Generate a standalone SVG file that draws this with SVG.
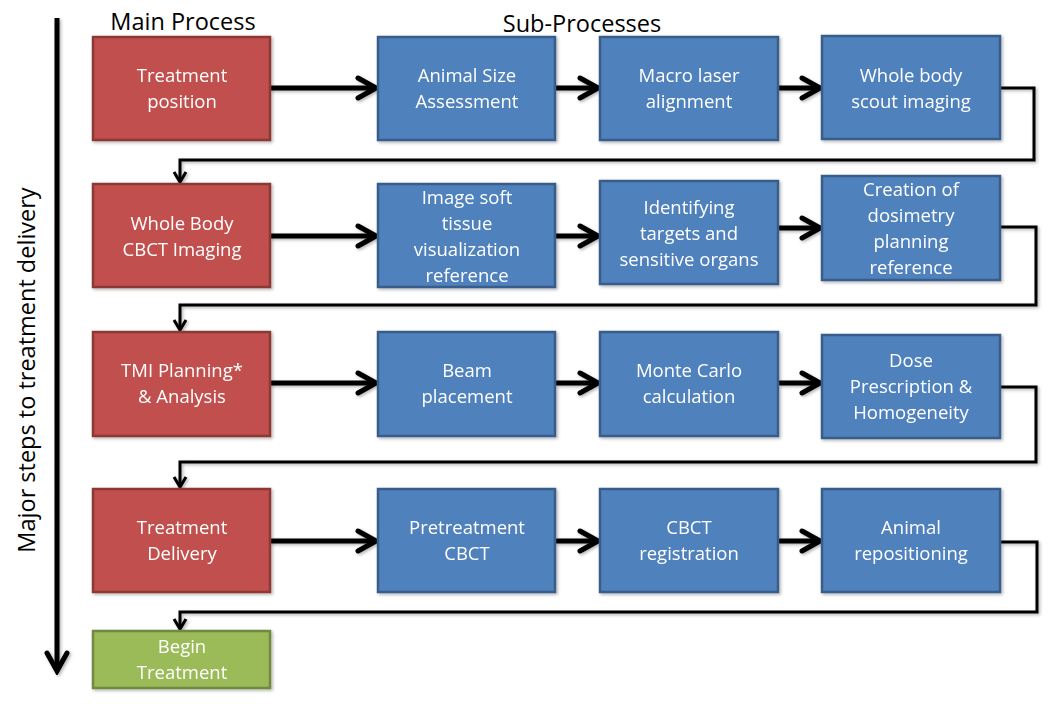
<svg xmlns="http://www.w3.org/2000/svg" width="1050" height="704" viewBox="0 0 1050 704">
<style>
.red{fill:#C0504D;stroke:#8C3836;stroke-width:2.5}
.blue{fill:#4F81BD;stroke:#385D8A;stroke-width:2.5}
.green{fill:#9BBB59;stroke:#71893F;stroke-width:2.5}
.t{font-family:"Open Sans","Liberation Sans",sans-serif;font-size:18.5px;fill:#fff;text-anchor:middle}
.h{font-family:"Open Sans","Liberation Sans",sans-serif;font-size:23.5px;fill:#000;text-anchor:middle}
.thick{fill:none;stroke:#000;stroke-width:5}
.thin{fill:none;stroke:#000;stroke-width:3}
</style>
<defs>
<marker id="ah" markerUnits="userSpaceOnUse" viewBox="0 0 26 26" refX="22" refY="13" markerWidth="26" markerHeight="26" orient="auto">
<path d="M4,3 L22,13 L4,23" fill="none" stroke="#000" stroke-width="5" stroke-linecap="round" stroke-linejoin="miter"/>
</marker>
<marker id="as" markerUnits="userSpaceOnUse" viewBox="0 0 16 16" refX="13" refY="8" markerWidth="16" markerHeight="16" orient="auto">
<path d="M3,2 L13,8 L3,14" fill="none" stroke="#000" stroke-width="3"/>
</marker>
<filter id="sh" x="-10%" y="-10%" width="130%" height="130%">
<feDropShadow dx="1.5" dy="1.5" stdDeviation="1.5" flood-color="#000" flood-opacity="0.3"/>
</filter>
</defs>
<text class="h" x="183" y="30">Main Process</text>
<text class="h" x="582" y="32">Sub-Processes</text>
<text class="h" transform="translate(35,370) rotate(-90)">Major steps to treatment delivery</text>
<g id="connectors" filter="url(#sh)">
<line class="thick" x1="57" y1="18" x2="57" y2="671" marker-end="url(#ah)"/>
<line class="thick" x1="270" y1="88" x2="376" y2="88" marker-end="url(#ah)"/>
<line class="thick" x1="556" y1="88" x2="598" y2="88" marker-end="url(#ah)"/>
<line class="thick" x1="779" y1="88" x2="820" y2="88" marker-end="url(#ah)"/>
<polyline class="thin" points="1001,88 1034,88 1034,160 180,160 180,182" marker-end="url(#as)"/>
<line class="thick" x1="270" y1="236" x2="376" y2="236" marker-end="url(#ah)"/>
<line class="thick" x1="556" y1="236" x2="598" y2="236" marker-end="url(#ah)"/>
<line class="thick" x1="779" y1="228" x2="820" y2="228" marker-end="url(#ah)"/>
<polyline class="thin" points="1001,227 1036,227 1036,305 180,305 180,330" marker-end="url(#as)"/>
<line class="thick" x1="270" y1="383" x2="376" y2="383" marker-end="url(#ah)"/>
<line class="thick" x1="556" y1="383" x2="598" y2="383" marker-end="url(#ah)"/>
<line class="thick" x1="779" y1="383" x2="820" y2="383" marker-end="url(#ah)"/>
<polyline class="thin" points="1001,387 1036,387 1036,462 180,462 180,487" marker-end="url(#as)"/>
<line class="thick" x1="270" y1="541" x2="376" y2="541" marker-end="url(#ah)"/>
<line class="thick" x1="556" y1="541" x2="598" y2="541" marker-end="url(#ah)"/>
<line class="thick" x1="779" y1="541" x2="820" y2="541" marker-end="url(#ah)"/>
<polyline class="thin" points="1001,542 1037,542 1037,612 180,612 180,629" marker-end="url(#as)"/>
</g>
<g id="n1" filter="url(#sh)"><rect class="red" x="93" y="37" width="177" height="103"/><text class="t" x="182" y="82">Treatment</text><text class="t" x="182" y="108">position</text></g>
<g id="n2" filter="url(#sh)"><rect class="blue" x="378" y="37" width="177" height="103"/><text class="t" x="467" y="82">Animal Size</text><text class="t" x="467" y="108">Assessment</text></g>
<g id="n3" filter="url(#sh)"><rect class="blue" x="600" y="37" width="178" height="103"/><text class="t" x="689" y="82">Macro laser</text><text class="t" x="689" y="108">alignment</text></g>
<g id="n4" filter="url(#sh)"><rect class="blue" x="822" y="36" width="178" height="103"/><text class="t" x="911" y="82">Whole body</text><text class="t" x="911" y="108">scout imaging</text></g>
<g id="n5" filter="url(#sh)"><rect class="red" x="93" y="184" width="177" height="103"/><text class="t" x="182" y="230">Whole Body</text><text class="t" x="182" y="256">CBCT Imaging</text></g>
<g id="n6" filter="url(#sh)"><rect class="blue" x="378" y="184" width="177" height="103"/><text class="t" x="467" y="204">Image soft</text><text class="t" x="467" y="230">tissue</text><text class="t" x="467" y="256">visualization</text><text class="t" x="467" y="282">reference</text></g>
<g id="n7" filter="url(#sh)"><rect class="blue" x="600" y="181" width="178" height="103"/><text class="t" x="689" y="214">Identifying</text><text class="t" x="689" y="240">targets and</text><text class="t" x="689" y="266">sensitive organs</text></g>
<g id="n8" filter="url(#sh)"><rect class="blue" x="822" y="176" width="178" height="104"/><text class="t" x="911" y="196">Creation of</text><text class="t" x="911" y="222">dosimetry</text><text class="t" x="911" y="248">planning</text><text class="t" x="911" y="274">reference</text></g>
<g id="n9" filter="url(#sh)"><rect class="red" x="93" y="332" width="177" height="104"/><text class="t" x="182" y="377">TMI Planning*</text><text class="t" x="182" y="403">&amp; Analysis</text></g>
<g id="n10" filter="url(#sh)"><rect class="blue" x="378" y="332" width="177" height="104"/><text class="t" x="467" y="377">Beam</text><text class="t" x="467" y="403">placement</text></g>
<g id="n11" filter="url(#sh)"><rect class="blue" x="600" y="332" width="178" height="104"/><text class="t" x="689" y="377">Monte Carlo</text><text class="t" x="689" y="403">calculation</text></g>
<g id="n12" filter="url(#sh)"><rect class="blue" x="822" y="335" width="178" height="103"/><text class="t" x="911" y="367">Dose</text><text class="t" x="911" y="393">Prescription &amp;</text><text class="t" x="911" y="419">Homogeneity</text></g>
<g id="n13" filter="url(#sh)"><rect class="red" x="93" y="489" width="177" height="103"/><text class="t" x="182" y="534">Treatment</text><text class="t" x="182" y="560">Delivery</text></g>
<g id="n14" filter="url(#sh)"><rect class="blue" x="378" y="489" width="177" height="103"/><text class="t" x="467" y="534">Pretreatment</text><text class="t" x="467" y="560">CBCT</text></g>
<g id="n15" filter="url(#sh)"><rect class="blue" x="600" y="489" width="178" height="103"/><text class="t" x="689" y="534">CBCT</text><text class="t" x="689" y="560">registration</text></g>
<g id="n16" filter="url(#sh)"><rect class="blue" x="822" y="489" width="178" height="103"/><text class="t" x="911" y="534">Animal</text><text class="t" x="911" y="560">repositioning</text></g>
<g id="n17" filter="url(#sh)"><rect class="green" x="93" y="631" width="177" height="57"/><text class="t" x="182" y="653">Begin</text><text class="t" x="182" y="679">Treatment</text></g>
</svg>
